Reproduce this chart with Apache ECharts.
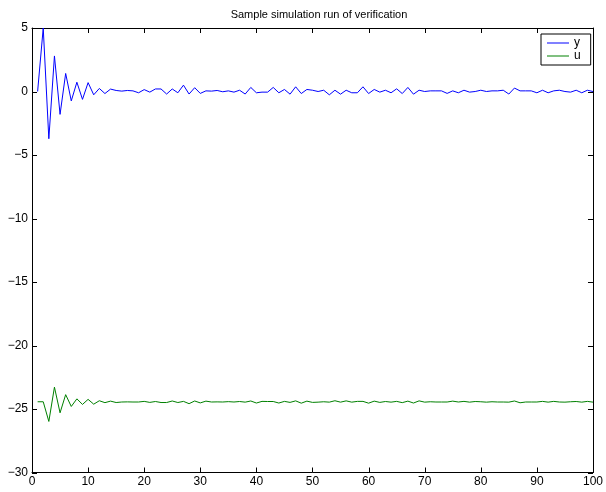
<!DOCTYPE html>
<html>
<head>
<meta charset="utf-8">
<script src="https://cdn.jsdelivr.net/npm/echarts@6/dist/echarts.min.js"></script>
<style>html,body{margin:0;padding:0;background:#fff}#c{width:606px;height:492px}</style>
</head>
<body>
<div id="c"></div>
<script>
const titleText = 'Sample simulation run of verification';
const seriesNames = ['y', 'u'];
const steps = Array.from({length: 100}, (_, i) => i + 1);
const yValues = [0, 5.0, -3.72, 2.8, -1.8, 1.42, -0.74, 0.73, -0.62, 0.7,
  -0.26, 0.24, -0.16, 0.19, 0.08, 0.03, 0.08, 0.05, -0.1, 0.15,
  -0.05, 0.2, 0.2, -0.2, 0.2, -0.1, 0.5, -0.2, 0.3, -0.15,
  0.05, 0.03, 0.08, -0.02, 0.05, -0.05, 0.1, -0.2, 0.32, -0.1,
  -0.05, -0.05, 0.32, -0.1, 0.16, -0.21, 0.37, -0.16, 0.16, 0.1,
  0.0, 0.1, -0.26, 0.1, -0.21, 0.1, -0.1, -0.1, 0.37, -0.16,
  0.16, -0.05, 0.1, -0.1, 0.21, -0.16, 0.32, -0.21, 0.1, 0.0,
  0.05, 0.05, 0.05, -0.15, 0.05, -0.1, 0.1, -0.05, 0.0, 0.1,
  0.0, 0.05, 0.05, 0.1, -0.2, 0.27, 0.05, 0.05, 0.05, -0.1,
  0.1, -0.1, 0.05, 0.1, 0.0, -0.05, 0.1, -0.1, 0.1, 0.0];
const uValues = [-24.43, -24.43, -25.98, -23.28, -25.30, -23.87, -24.80, -24.20, -24.64, -24.24,
  -24.62, -24.35, -24.50, -24.38, -24.49, -24.45, -24.44, -24.45, -24.45, -24.40,
  -24.48, -24.41, -24.49, -24.49, -24.37, -24.49, -24.40, -24.58, -24.37, -24.52,
  -24.38, -24.45, -24.44, -24.45, -24.42, -24.45, -24.41, -24.46, -24.37, -24.53,
  -24.40, -24.41, -24.41, -24.53, -24.40, -24.48, -24.36, -24.54, -24.38, -24.48,
  -24.46, -24.43, -24.46, -24.35, -24.46, -24.36, -24.46, -24.40, -24.40, -24.54,
  -24.38, -24.48, -24.41, -24.46, -24.40, -24.50, -24.38, -24.53, -24.36, -24.46,
  -24.43, -24.45, -24.45, -24.45, -24.38, -24.45, -24.40, -24.46, -24.41, -24.43,
  -24.46, -24.43, -24.45, -24.45, -24.46, -24.37, -24.51, -24.45, -24.45, -24.45,
  -24.40, -24.46, -24.40, -24.45, -24.46, -24.43, -24.41, -24.46, -24.40, -24.46];
const xTicks = {min: 0, max: 100, interval: 10};
const yTicks = {min: -30, max: 5, interval: 5};
const xTickValues = [0, 10, 20, 30, 40, 50, 60, 70, 80, 90, 100];
const yTickValues = [-30, -25, -20, -15, -10, -5, 0, 5];

const font = 'Liberation Sans, Arial, Helvetica, sans-serif';
const minus = v => String(v).replace('-', '\u2212');
const mkLine = () => ({show: true, onZero: false, lineStyle: {color: '#000', width: 1}});
const noTick = {show: false};
const lineIcon = 'path://M0,0H22V1H0Z';
const TICK_LEN = 5;
const tickStyle = {stroke: '#000', lineWidth: 1};
const snap = v => Math.round(v) + 0.5;

function xTickRender(params, api) {
  const v = api.value(0);
  const b = api.coord([v, yTicks.min]);
  const t = api.coord([v, yTicks.max]);
  const x = snap(b[0]);
  return {type: 'group', children: [
    {type: 'line', shape: {x1: x, y1: b[1], x2: x, y2: b[1] - TICK_LEN}, style: tickStyle},
    {type: 'line', shape: {x1: x, y1: t[1], x2: x, y2: t[1] + TICK_LEN}, style: tickStyle}
  ]};
}
function yTickRender(params, api) {
  const v = api.value(1);
  const l = api.coord([xTicks.min, v]);
  const r = api.coord([xTicks.max, v]);
  const y = snap(l[1]);
  return {type: 'group', children: [
    {type: 'line', shape: {x1: l[0], y1: y, x2: l[0] + TICK_LEN, y2: y}, style: tickStyle},
    {type: 'line', shape: {x1: r[0], y1: y, x2: r[0] - TICK_LEN, y2: y}, style: tickStyle}
  ]};
}

const chart = echarts.init(document.getElementById('c'), null, {renderer: 'canvas'});
chart.setOption({
  backgroundColor: '#fff',
  animation: false,
  title: {
    text: titleText, left: 314, top: 4, textAlign: 'center',
    textStyle: {fontFamily: font, fontSize: 11, fontWeight: 'normal', color: '#000'}
  },
  legend: {
    data: seriesNames.map(n => ({name: n, icon: lineIcon})),
    orient: 'vertical',
    left: 541, top: 34,
    padding: [3, 10, 3, 6],
    itemGap: 1,
    itemWidth: 22, itemHeight: 1,
    borderColor: '#000', borderWidth: 1,
    backgroundColor: '#fff',
    textStyle: {fontFamily: font, fontSize: 12, color: '#000', lineHeight: 12}
  },
  grid: {left: 32, right: 10, top: 28, bottom: 19.5, containLabel: false},
  xAxis: [{
    type: 'value', position: 'bottom', min: xTicks.min, max: xTicks.max, interval: xTicks.interval,
    axisLine: mkLine(), axisTick: noTick, splitLine: {show: false},
    axisLabel: {fontFamily: font, fontSize: 12, color: '#000', margin: 3}
  }, {
    type: 'value', position: 'top', min: xTicks.min, max: xTicks.max, interval: xTicks.interval,
    axisLine: mkLine(), axisTick: noTick, splitLine: {show: false}, axisLabel: {show: false}
  }],
  yAxis: [{
    type: 'value', position: 'left', min: yTicks.min, max: yTicks.max, interval: yTicks.interval,
    axisLine: mkLine(), axisTick: noTick, splitLine: {show: false},
    axisLabel: {fontFamily: font, fontSize: 12, color: '#000', margin: 4, formatter: minus}
  }, {
    type: 'value', position: 'right', min: yTicks.min, max: yTicks.max, interval: yTicks.interval,
    axisLine: mkLine(), axisTick: noTick, splitLine: {show: false}, axisLabel: {show: false}
  }],
  series: [{
    name: seriesNames[0], type: 'line', symbol: 'none', z: 1,
    data: steps.map((t, i) => [t, yValues[i]]),
    lineStyle: {color: '#0000ff', width: 1}, itemStyle: {color: '#0000ff'}
  }, {
    name: seriesNames[1], type: 'line', symbol: 'none', z: 1,
    data: steps.map((t, i) => [t, uValues[i]]),
    lineStyle: {color: '#008000', width: 1}, itemStyle: {color: '#008000'}
  }, {
    name: 'xticks', type: 'custom', silent: true, clip: false, z: 3,
    data: xTickValues.map(v => [v, yTicks.min]),
    renderItem: xTickRender
  }, {
    name: 'yticks', type: 'custom', silent: true, clip: false, z: 3,
    data: yTickValues.map(v => [xTicks.min, v]),
    renderItem: yTickRender
  }]
});
</script>
</body>
</html>
